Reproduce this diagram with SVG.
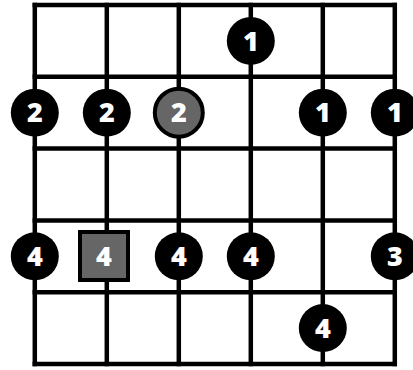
<svg xmlns="http://www.w3.org/2000/svg" width="413" height="370" viewBox="0 0 413 370">
<style>
.grid line{stroke:#000;stroke-width:4.5}
.dot{fill:#000}
.hl{fill:#666;stroke:#000;stroke-width:4}
.lbl{font-family:"Open Sans","Liberation Sans",sans-serif;font-weight:800;font-size:27px;fill:#fff;text-anchor:middle}
</style>
<rect width="413" height="370" fill="#fff"/>
<g id="grid" class="grid">
<line x1="32.6" y1="5" x2="397" y2="5"/>
<line x1="32.6" y1="76.8" x2="397" y2="76.8"/>
<line x1="32.6" y1="148.6" x2="397" y2="148.6"/>
<line x1="32.6" y1="220.4" x2="397" y2="220.4"/>
<line x1="32.6" y1="292.2" x2="397" y2="292.2"/>
<line x1="32.6" y1="364" x2="397" y2="364"/>
<line x1="34.8" y1="2.8" x2="34.8" y2="366.2"/>
<line x1="106.8" y1="2.8" x2="106.8" y2="366.2"/>
<line x1="178.8" y1="2.8" x2="178.8" y2="366.2"/>
<line x1="250.8" y1="2.8" x2="250.8" y2="366.2"/>
<line x1="322.8" y1="2.8" x2="322.8" y2="366.2"/>
<line x1="394.8" y1="2.8" x2="394.8" y2="366.2"/>
</g>
<g id="n1"><circle class="dot" cx="250.8" cy="40.9" r="24"/><text class="lbl" x="250.8" y="50.6">1</text></g>
<g id="n2"><circle class="dot" cx="34.8" cy="112.7" r="24"/><text class="lbl" x="34.8" y="122.4">2</text></g>
<g id="n3"><circle class="dot" cx="106.8" cy="112.7" r="24"/><text class="lbl" x="106.8" y="122.4">2</text></g>
<g id="n4"><circle class="hl" cx="178.8" cy="112.7" r="24"/><text class="lbl" x="178.8" y="122.4">2</text></g>
<g id="n5"><circle class="dot" cx="322.8" cy="112.7" r="24"/><text class="lbl" x="322.8" y="122.4">1</text></g>
<g id="n6"><circle class="dot" cx="394.8" cy="112.7" r="24"/><text class="lbl" x="394.8" y="122.4">1</text></g>
<g id="n7"><circle class="dot" cx="34.8" cy="256.3" r="24"/><text class="lbl" x="34.8" y="266">4</text></g>
<g id="n8"><rect class="hl" x="80" y="232" width="48" height="48"/><text class="lbl" x="104" y="266">4</text></g>
<g id="n9"><circle class="dot" cx="178.8" cy="256.3" r="24"/><text class="lbl" x="178.8" y="266">4</text></g>
<g id="n10"><circle class="dot" cx="250.8" cy="256.3" r="24"/><text class="lbl" x="250.8" y="266">4</text></g>
<g id="n11"><circle class="dot" cx="394.8" cy="256.3" r="24"/><text class="lbl" x="394.8" y="266">3</text></g>
<g id="n12"><circle class="dot" cx="322.8" cy="328.1" r="24"/><text class="lbl" x="322.8" y="337.8">4</text></g>
</svg>
